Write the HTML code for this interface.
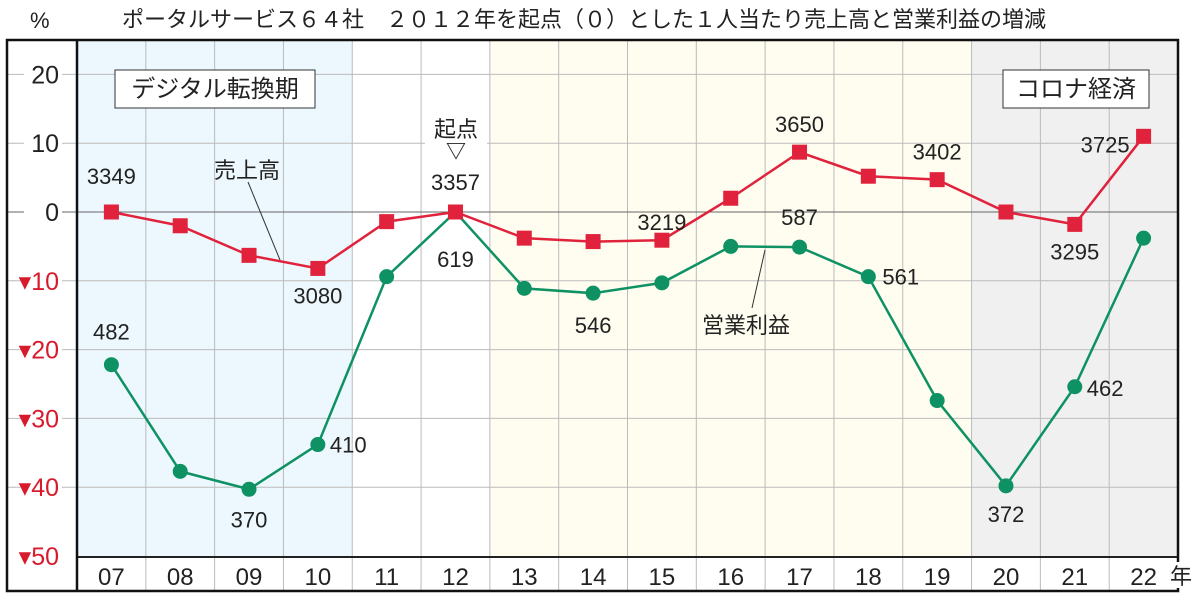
<!DOCTYPE html>
<html><head><meta charset="utf-8"><style>
body{margin:0;background:#fff;}
svg text{font-family:"Liberation Sans","Noto Sans CJK JP",sans-serif;}
</style></head><body>
<svg width="1200" height="597" viewBox="0 0 1200 597" xmlns="http://www.w3.org/2000/svg">
<g id="bg"></g><g id="grid"></g><g id="ann"></g><g id="series"></g><g id="labels"></g>
</svg>
<script>
const categories=["07","08","09","10","11","12","13","14","15","16","17","18","19","20","21","22"];
const salesValues=[0,-2,-6.3,-8.2,-1.4,0,-3.8,-4.3,-4.1,2.0,8.7,5.2,4.7,0,-1.8,11.0];
const profitValues=[-22.2,-37.7,-40.3,-33.8,-9.4,0,-11.1,-11.8,-10.3,-5.0,-5.1,-9.4,-27.4,-39.8,-25.4,-3.8];
const yTicks=[20,10,0,-10,-20,-30,-40,-50];
const salesLabels=[[0,"3349"],[3,"3080"],[5,"3357"],[8,"3219"],[10,"3650"],[12,"3402"],[14,"3295"],[15,"3725"]];
const profitLabels=[[0,"482"],[2,"370"],[3,"410"],[5,"619"],[7,"546"],[10,"587"],[11,"561"],[13,"372"],[14,"462"]];
const NS="http://www.w3.org/2000/svg";
const L=77,R=1178,T=40,B=557,step=(R-L)/categories.length;
const x=i=>L+step*(i+0.5);
const y=v=>212-v*6.88;
function mk(p,tag,a,t){const e=document.createElementNS(NS,tag);for(const k in a)e.setAttribute(k,a[k]);if(t!==undefined)e.textContent=t;document.getElementById(p).appendChild(e);return e;}
let e;
e=mk("bg","rect",{x:L,y:T,width:step*4,height:B-T,fill:"#ecf8fd"});

e=mk("bg","rect",{x:L+step*6,y:T,width:step*7,height:B-T,fill:"#fefdf0"});

e=mk("bg","rect",{x:L+step*13,y:T,width:step*3,height:B-T,fill:"#f0f0f0"});

for(let i=1;i<categories.length;i++){e=mk("grid","line",{x1:L+step*i,x2:L+step*i,y1:T,y2:591,stroke:"#bbb","stroke-width":1});
}
yTicks.forEach(v=>{
 if(v!==-50){e=mk("grid","line",{x1:7,x2:R,y1:y(v),y2:y(v),stroke:v===0?"#666":"#bbb","stroke-width":1});
 }
 const neg=v<0;
 mk("grid","rect",{x:24,y:y(v)-12,width:38,height:24,fill:"#fff"});
 e=mk("grid","text",{x:59,y:y(v)+9,"text-anchor":"end","font-size":25,fill:neg?"#d81b2c":"#222"},neg?"▾"+(-v):String(v));
 
});
e=mk("grid","line",{x1:L,x2:R,y1:B,y2:B,stroke:"#222","stroke-width":2});

e=mk("grid","rect",{x:7,y:T,width:R-7,height:551,fill:"none",stroke:"#111","stroke-width":2.5});

e=mk("grid","line",{x1:L,x2:L,y1:T,y2:591,stroke:"#111","stroke-width":2.5});

categories.forEach((c,i)=>{e=mk("labels","text",{x:x(i),y:585,"text-anchor":"middle","font-size":24,fill:"#222"},c);
});
mk("labels","rect",{x:1168,y:562,width:28,height:26,fill:"#fff"});
e=mk("labels","text",{x:1170,y:584,"font-size":22,fill:"#222"},"年");

e=mk("labels","text",{x:30,y:28,"font-size":22,fill:"#222"},"%");

e=mk("labels","text",{x:122,y:27,"font-size":22,fill:"#222"},"ポータルサービス６４社　２０１２年を起点（０）とした１人当たり売上高と営業利益の増減");

e=mk("ann","rect",{x:115,y:70,width:200,height:38,fill:"#fff",stroke:"#333","stroke-width":1});

e=mk("ann","text",{x:215,y:97,"text-anchor":"middle","font-size":24,fill:"#222"},"デジタル転換期");

e=mk("ann","rect",{x:1003,y:70,width:146,height:38,fill:"#fff",stroke:"#333","stroke-width":1});

e=mk("ann","text",{x:1076,y:97,"text-anchor":"middle","font-size":24,fill:"#222"},"コロナ経済");

mk("ann","rect",{x:425,y:115,width:62,height:44,fill:"#fff"});
e=mk("ann","text",{x:456,y:137,"text-anchor":"middle","font-size":22,fill:"#222"},"起点");

e=mk("ann","text",{x:456,y:158,"text-anchor":"middle","font-size":20,"font-weight":"bold",fill:"#222"},"▽");

e=mk("ann","line",{x1:248,x2:280,y1:182,y2:260,stroke:"#333","stroke-width":1});

e=mk("ann","text",{x:214,y:178,"font-size":22,fill:"#222"},"売上高");

e=mk("ann","line",{x1:752,x2:765,y1:308,y2:250,stroke:"#333","stroke-width":1});

e=mk("ann","text",{x:702,y:333,"font-size":22,fill:"#222"},"営業利益");

e=mk("series","polyline",{points:profitValues.map((v,i)=>x(i)+","+y(v)).join(" "),fill:"none",stroke:"#0e9163","stroke-width":2.5});

e=mk("series","polyline",{points:salesValues.map((v,i)=>x(i)+","+y(v)).join(" "),fill:"none",stroke:"#e0223c","stroke-width":2.5});

profitValues.forEach((v,i)=>{e=mk("series","circle",{cx:x(i),cy:y(v),r:7.5,fill:"#0e9163"});
});
salesValues.forEach((v,i)=>{e=mk("series","rect",{x:x(i)-7.5,y:y(v)-7.5,width:15,height:15,fill:"#e0223c"});
});
const sOff={0:[0,-28,"middle"],3:[0,35,"middle"],5:[0,-22,"middle"],8:[0,-10,"middle"],10:[0,-20,"middle"],12:[0,-20,"middle"],14:[0,35,"middle"],15:[-14,16,"end"]};
salesLabels.forEach(([i,t])=>{const o=sOff[i];e=mk("labels","text",{x:x(i)+o[0],y:y(salesValues[i])+o[1],"text-anchor":o[2],"font-size":22,fill:"#222"},t);
});
const pOff={0:[0,-25,"middle"],2:[0,38,"middle"],3:[12,8,"start"],5:[0,55,"middle"],7:[0,40,"middle"],10:[0,-22,"middle"],11:[14,8,"start"],13:[0,36,"middle"],14:[12,9,"start"]};
profitLabels.forEach(([i,t])=>{const o=pOff[i];e=mk("labels","text",{x:x(i)+o[0],y:y(profitValues[i])+o[1],"text-anchor":o[2],"font-size":22,fill:"#222"},t);
});
</script>
</body></html>
